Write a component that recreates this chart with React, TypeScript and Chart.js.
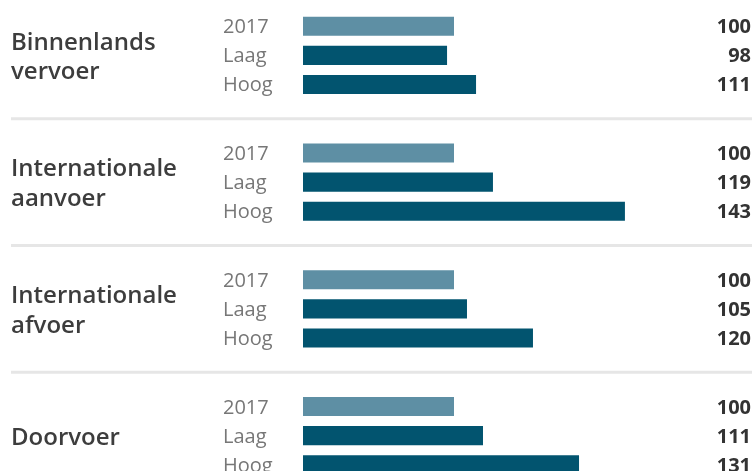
import React, { useEffect, useRef } from "react";
import { Chart, registerables } from "chart.js";

Chart.register(...registerables);

// Group names (one array entry per line of the label)
const groups: string[][] = [
  ["Binnenlands", "vervoer"],
  ["Internationale", "aanvoer"],
  ["Internationale", "afvoer"],
  ["Doorvoer"],
];
const seriesNames = ["2017", "Laag", "Hoog"];

// Bar lengths as drawn (index, 2017 = 100)
const bars2017 = [100, 100, 100, 100];
const barsLaag = [95.4, 125.8, 108.6, 119.2];
const barsHoog = [114.6, 213.2, 152.3, 182.8];

// Printed value labels
const labels2017 = [100, 100, 100, 100];
const labelsLaag = [98, 119, 105, 111];
const labelsHoog = [111, 143, 120, 131];

const valueLabels = [labels2017, labelsLaag, labelsHoog];

const COLOR_2017 = "#5e8fa4";
const COLOR_SCEN = "#02546f";

const overlay = {
  id: "overlay",
  afterDatasetsDraw(chart: any) {
    const ctx = chart.ctx as CanvasRenderingContext2D;
    const y = chart.scales.y;
    ctx.save();
    // separators between groups
    ctx.strokeStyle = "#e6e6e6";
    ctx.lineWidth = 3;
    for (let i = 0; i < groups.length - 1; i++) {
      const py = (y.getPixelForValue(i) + y.getPixelForValue(i + 1)) / 2;
      ctx.beginPath();
      ctx.moveTo(11, py);
      ctx.lineTo(chart.width, py);
      ctx.stroke();
    }
    // group labels
    ctx.font = "600 24px 'Open Sans'";
    ctx.fillStyle = "#3d3d3d";
    ctx.textAlign = "left";
    ctx.textBaseline = "alphabetic";
    groups.forEach((lines, i) => {
      const cy = y.getPixelForValue(i);
      lines.forEach((t, k) => {
        ctx.fillText(t, 11, cy + (k - (lines.length - 1) / 2) * 29.5 + 9);
      });
    });
    // row labels and value labels
    chart.data.datasets.forEach((_ds: any, di: number) => {
      const meta = chart.getDatasetMeta(di);
      const vals = valueLabels[di];
      meta.data.forEach((bar: any, i: number) => {
        ctx.font = "20px 'Open Sans'";
        ctx.fillStyle = "#777777";
        ctx.textAlign = "left";
        ctx.fillText(seriesNames[di], 223, bar.y + 7);
        ctx.font = "bold 20px 'Open Sans'";
        ctx.fillStyle = "#333333";
        ctx.textAlign = "right";
        ctx.fillText(String(vals[i]), 751, bar.y + 7);
      });
    });
    ctx.restore();
  },
};

export default function App() {
  const ref = useRef<HTMLCanvasElement | null>(null);
  useEffect(() => {
    if (!ref.current) return;
    const chart = new Chart(ref.current, {
      type: "bar",
      data: {
        labels: groups.map((g) => g.join(" ")),
        datasets: [
          { label: seriesNames[0], data: bars2017, backgroundColor: COLOR_2017 },
          { label: seriesNames[1], data: barsLaag, backgroundColor: COLOR_SCEN },
          { label: seriesNames[2], data: barsHoog, backgroundColor: COLOR_SCEN },
        ],
      },
      options: {
        indexAxis: "y",
        animation: false,
        responsive: false,
        devicePixelRatio: 1,
        layout: { padding: { left: 303, right: 0, top: 0, bottom: 0 } },
        datasets: {
          bar: { categoryPercentage: 0.6868, barPercentage: 0.655 },
        },
        scales: {
          x: { display: false, min: 0, max: 297.35 },
          y: { display: false },
        },
        plugins: {
          legend: { display: false },
          tooltip: { enabled: false },
        },
      },
      plugins: [overlay],
    });
    return () => chart.destroy();
  }, []);
  return (
    <canvas
      ref={ref}
      width={752}
      height={507}
      style={{ position: "fixed", left: 0, top: -8, width: 752, height: 507 }}
    />
  );
}
